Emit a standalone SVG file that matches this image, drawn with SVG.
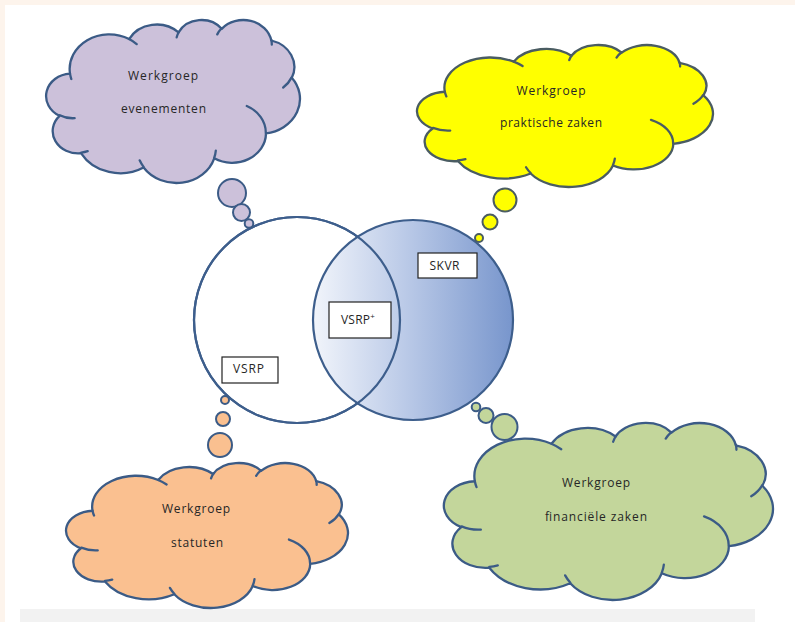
<svg xmlns="http://www.w3.org/2000/svg" xmlns:xlink="http://www.w3.org/1999/xlink" width="795" height="622" viewBox="0 0 795 622">
<defs>
<style>
.cl{stroke:#3b5b86;stroke-width:2.3;stroke-linejoin:round}
.cy{stroke:#4a5c62;stroke-width:2.3;stroke-linejoin:round}
.bub{stroke:#3b5b86;stroke-width:2}
.buby{fill:#ffff00;stroke:#4a5c62;stroke-width:2}
.t{font-family:"Open Sans","Liberation Sans",sans-serif;font-size:12px;fill:#262626}
.lbl{fill:#ffffff;stroke:#222222;stroke-width:1.2}
.venn{stroke:#3d5e8c;stroke-width:2.2}
</style>
<linearGradient id="gradSkvr" gradientUnits="userSpaceOnUse" x1="312" y1="0" x2="514" y2="0">
<stop offset="0" stop-color="#f2f5fb"/>
<stop offset="0.45" stop-color="#bccbe8"/>
<stop offset="1" stop-color="#7795cc"/>
</linearGradient>
<path id="cloud" vector-effect="non-scaling-stroke" d="M3900 14370A6753 9190 0 0 1 14007 5203A5333 7267 0 0 1 22458 3433A4365 5945 0 0 1 29835 2482A4857 6595 0 0 1 38320 5577A5333 7273 0 0 1 41820 15461A6775 9220 0 0 1 37406 30204A5785 7867 0 0 1 28558 36815A6752 9215 0 0 1 16483 39265A7720 10543 0 0 1 5808 35472A4360 5918 0 0 1 2116 25550A4345 5945 0 0 1 3900 14370Z"/>
<path id="crease" vector-effect="non-scaling-stroke" fill="none" stroke-linecap="round" d="M4693 26177A4345 5945 0 0 1 2160 25380M6928 34899A4360 5918 0 0 1 5820 35280M16478 39090A6752 9215 0 0 1 15810 37350M28827 34751A6752 9215 0 0 1 28560 36661M34129 22954A5785 7867 0 0 1 37380 30090M41798 15354A5333 7273 0 0 1 40350 18030M38324 5426A4857 6595 0 0 1 38400 6690M29078 3952A4857 6595 0 0 1 29820 2341M22141 4720A4365 5945 0 0 1 22500 3330M14000 5192A6753 9190 0 0 1 15298 6539M4127 15789A6753 9190 0 0 1 3900 14370"/>
</defs>

<rect x="0" y="0" width="795" height="622" fill="#fdf4ec"/>
<rect x="5" y="5" width="790" height="617" fill="#ffffff"/>
<rect x="20" y="609" width="735" height="13" fill="#f2f2f2"/>

<g id="venn-vsrp">
<circle cx="297" cy="320" r="103" fill="#ffffff" class="venn"/>
</g>
<g id="venn-skvr">
<circle cx="413" cy="320" r="100" fill="url(#gradSkvr)" class="venn"/>
</g>
<circle cx="297" cy="320" r="103" fill="none" class="venn"/>

<g id="label-skvr">
<rect x="418" y="253" width="59" height="25" class="lbl"/>
<text x="444.5" y="270" text-anchor="middle" class="t" font-size="11" textLength="30" lengthAdjust="spacing">SKVR</text>
</g>
<g id="label-vsrp-plus">
<rect x="329" y="302" width="62" height="36" class="lbl"/>
<text x="341" y="323.5" class="t" font-size="11"><tspan textLength="29" lengthAdjust="spacing">VSRP</tspan><tspan dy="-5" font-size="8">+</tspan></text>
</g>
<g id="label-vsrp">
<rect x="222" y="357" width="56" height="26" class="lbl"/>
<text x="248.5" y="373" text-anchor="middle" class="t" font-size="11" textLength="31" lengthAdjust="spacing">VSRP</text>
</g>

<g id="cloud-evenementen">
<g transform="translate(47.193 19.468) scale(0.005849 0.0037716)" fill="#ccc1da" class="cl">
<use xlink:href="#cloud"/>
<use xlink:href="#crease"/>
</g>
<text x="163" y="80" text-anchor="middle" class="t" textLength="70" lengthAdjust="spacing">Werkgroep</text>
<text x="163.5" y="112.5" text-anchor="middle" class="t" textLength="85" lengthAdjust="spacing">evenementen</text>
</g>

<g id="cloud-praktische-zaken">
<g transform="translate(418.225 44.537) scale(0.00682 0.0032857)" fill="#ffff00" class="cy">
<use xlink:href="#cloud"/>
<use xlink:href="#crease"/>
</g>
<text x="551" y="95" text-anchor="middle" class="t" textLength="69" lengthAdjust="spacing">Werkgroep</text>
<text x="551" y="126.5" text-anchor="middle" class="t" textLength="102" lengthAdjust="spacing">praktische zaken</text>
</g>

<g id="cloud-statuten">
<g transform="translate(67.214 462.527) scale(0.0064964 0.0033551)" fill="#fac090" class="cl">
<use xlink:href="#cloud"/>
<use xlink:href="#crease"/>
</g>
<text x="196" y="513" text-anchor="middle" class="t" textLength="68" lengthAdjust="spacing">Werkgroep</text>
<text x="197" y="547" text-anchor="middle" class="t" textLength="52" lengthAdjust="spacing">statuten</text>
</g>

<g id="cloud-financiele-zaken">
<g transform="translate(445.25 422.42) scale(0.0075829 0.0040955)" fill="#c3d69b" class="cl">
<use xlink:href="#cloud"/>
<use xlink:href="#crease"/>
</g>
<text x="596" y="487" text-anchor="middle" class="t" textLength="68" lengthAdjust="spacing">Werkgroep</text>
<text x="596" y="520.5" text-anchor="middle" class="t" textLength="102" lengthAdjust="spacing">financiële zaken</text>
</g>

<g id="connectors">
<circle cx="232" cy="193" r="14" fill="#ccc1da" class="bub"/>
<circle cx="241.5" cy="212.5" r="8.5" fill="#ccc1da" class="bub"/>
<circle cx="249" cy="223.5" r="4.3" fill="#ccc1da" class="bub"/>

<circle cx="505" cy="200" r="11.5" class="buby"/>
<circle cx="490" cy="222" r="7.5" class="buby"/>
<circle cx="479" cy="238" r="4" class="buby"/>

<circle cx="225" cy="400" r="4" fill="#fac090" class="bub"/>
<circle cx="223" cy="419" r="7" fill="#fac090" class="bub"/>
<circle cx="220" cy="445" r="12" fill="#fac090" class="bub"/>

<circle cx="476" cy="407" r="4.3" fill="#c3d69b" class="bub"/>
<circle cx="486" cy="415.5" r="7.5" fill="#c3d69b" class="bub"/>
<circle cx="504.5" cy="427" r="13" fill="#c3d69b" class="bub"/>
</g>
</svg>
